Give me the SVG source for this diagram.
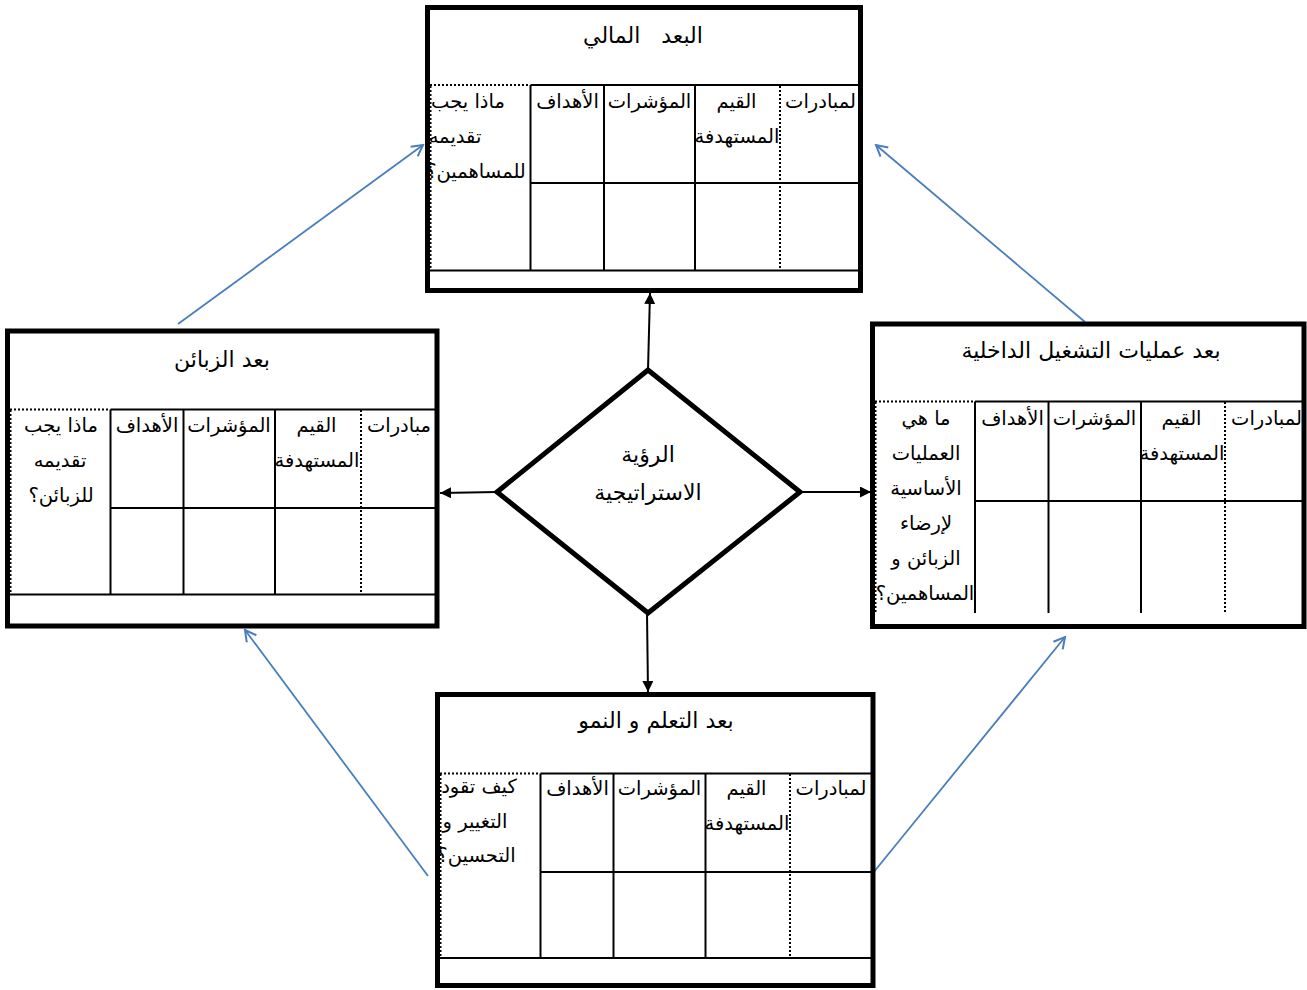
<svg xmlns="http://www.w3.org/2000/svg" width="1307" height="990" viewBox="0 0 1307 990">
<style>
.box{fill:#fff;stroke:#000;stroke-width:5}
.grid{stroke:#000;stroke-width:2;fill:none}
.dot{stroke:#000;stroke-width:2;stroke-dasharray:2 2;fill:none}
.t{font-family:"DejaVu Sans",sans-serif;font-size:19.5px;fill:#000;text-anchor:middle}
.h{font-size:22px}
.conn{stroke:#000;stroke-width:2;fill:none}
.blue{stroke:#4a7ebb;stroke-width:1.8;fill:none}
.dia{fill:#fff;stroke:#000;stroke-width:5;stroke-linejoin:miter}
</style>
<defs>
<marker id="ah" markerUnits="userSpaceOnUse" markerWidth="12" markerHeight="12" refX="11" refY="5.5" orient="auto">
<path d="M0,0 L11,5.5 L0,11 z" fill="#000"/>
</marker>
<marker id="ab" markerUnits="userSpaceOnUse" markerWidth="14" markerHeight="14" refX="12" refY="7" orient="auto">
<path d="M1,1 L12,7 L1,13" fill="none" stroke="#4a7ebb" stroke-width="2"/>
</marker>
<clipPath id="cTop"><rect x="430" y="10" width="428" height="278"/></clipPath>
<clipPath id="cLeft"><rect x="10" y="333.5" width="424.5" height="290"/></clipPath>
<clipPath id="cRight"><rect x="875" y="326.5" width="426.5" height="297.5"/></clipPath>
<clipPath id="cBot"><rect x="440" y="697" width="430.5" height="286"/></clipPath>
</defs>

<g id="connectors">
<line class="conn" x1="648" y1="370" x2="650" y2="293" marker-end="url(#ah)"/>
<line class="conn" x1="497" y1="492" x2="440" y2="493" marker-end="url(#ah)"/>
<line class="conn" x1="800" y1="492" x2="871" y2="492" marker-end="url(#ah)"/>
<line class="conn" x1="647" y1="613" x2="648" y2="692" marker-end="url(#ah)"/>
<line class="blue" x1="178" y1="324" x2="423" y2="145" marker-end="url(#ab)"/>
<line class="blue" x1="1085" y1="322" x2="876" y2="145" marker-end="url(#ab)"/>
<line class="blue" x1="428" y1="876" x2="245" y2="630" marker-end="url(#ab)"/>
<line class="blue" x1="873" y1="873" x2="1065" y2="637" marker-end="url(#ab)"/>
</g>

<g id="financial">
<rect class="box" x="427.5" y="7.5" width="433" height="283"/>
<line class="grid" x1="530.5" y1="85" x2="858" y2="85"/>
<line class="grid" x1="530.5" y1="183" x2="858" y2="183"/>
<line class="grid" x1="430" y1="270.5" x2="858" y2="270.5"/>
<line class="grid" x1="530.5" y1="85" x2="530.5" y2="270.5"/>
<line class="grid" x1="604" y1="85" x2="604" y2="270.5"/>
<line class="grid" x1="695" y1="85" x2="695" y2="270.5"/>
<line class="dot" x1="780" y1="86" x2="780" y2="270"/>
<line class="dot" x1="430" y1="85" x2="530" y2="85"/>
<line class="dot" x1="430.5" y1="86" x2="430.5" y2="270"/>
<g clip-path="url(#cTop)">
<text class="t h" x="643" y="43" xml:space="preserve">البعد   المالي</text>
<text class="t" x="468" y="108">ماذا يجب</text>
<text class="t" x="455" y="143">تقديمه</text>
<text class="t" x="476" y="178">للمساهمين؟</text>
<text class="t" x="567.5" y="108">الأهداف</text>
<text class="t" x="649.5" y="108">المؤشرات</text>
<text class="t" x="736.5" y="108">القيم</text>
<text class="t" x="737" y="143">المستهدفة</text>
<text class="t" x="820.5" y="108">لمبادرات</text>
</g>
</g>

<g id="customers">
<rect class="box" x="7.5" y="331" width="429.5" height="295"/>
<line class="grid" x1="110.5" y1="409.5" x2="435" y2="409.5"/>
<line class="grid" x1="110.5" y1="508" x2="435" y2="508"/>
<line class="grid" x1="10" y1="594.5" x2="435" y2="594.5"/>
<line class="grid" x1="110.5" y1="409.5" x2="110.5" y2="594.5"/>
<line class="grid" x1="183.5" y1="409.5" x2="183.5" y2="594.5"/>
<line class="grid" x1="275" y1="409.5" x2="275" y2="594.5"/>
<line class="dot" x1="361" y1="410" x2="361" y2="594"/>
<line class="dot" x1="10" y1="409.5" x2="110" y2="409.5"/>
<line class="dot" x1="10.5" y1="410" x2="10.5" y2="594"/>
<g clip-path="url(#cLeft)">
<text class="t h" x="222" y="367">بعد الزبائن</text>
<text class="t" x="61" y="432">ماذا يجب</text>
<text class="t" x="60" y="467">تقديمه</text>
<text class="t" x="61" y="502">للزبائن؟</text>
<text class="t" x="147" y="432">الأهداف</text>
<text class="t" x="229" y="432">المؤشرات</text>
<text class="t" x="316.5" y="432">القيم</text>
<text class="t" x="317" y="467">المستهدفة</text>
<text class="t" x="399" y="432">مبادرات</text>
</g>
</g>

<g id="internal">
<rect class="box" x="872.5" y="324" width="431.5" height="302.5"/>
<line class="grid" x1="975" y1="401.5" x2="1302" y2="401.5"/>
<line class="grid" x1="975" y1="501" x2="1302" y2="501"/>
<line class="grid" x1="975" y1="401.5" x2="975" y2="613"/>
<line class="grid" x1="1048.5" y1="401.5" x2="1048.5" y2="613"/>
<line class="grid" x1="1141" y1="401.5" x2="1141" y2="613"/>
<line class="dot" x1="1225" y1="402" x2="1225" y2="613"/>
<line class="dot" x1="875" y1="401.5" x2="975" y2="401.5"/>
<line class="dot" x1="875.5" y1="402" x2="875.5" y2="613"/>
<g clip-path="url(#cRight)">
<text class="t h" x="1091" y="358">بعد عمليات التشغيل الداخلية</text>
<text class="t" x="926" y="425">ما هي</text>
<text class="t" x="926" y="460">العمليات</text>
<text class="t" x="926" y="495">الأساسية</text>
<text class="t" x="926" y="530">لإرضاء</text>
<text class="t" x="926" y="565">الزبائن و</text>
<text class="t" x="925" y="600">المساهمين؟</text>
<text class="t" x="1012.5" y="425">الأهداف</text>
<text class="t" x="1094.5" y="425">المؤشرات</text>
<text class="t" x="1181.5" y="425">القيم</text>
<text class="t" x="1182" y="460">المستهدفة</text>
<text class="t" x="1266.5" y="425">لمبادرات</text>
</g>
</g>

<g id="learning">
<rect class="box" x="437.5" y="694.5" width="435.5" height="291"/>
<line class="grid" x1="540.5" y1="773.5" x2="871" y2="773.5"/>
<line class="grid" x1="540.5" y1="872" x2="871" y2="872"/>
<line class="grid" x1="440" y1="958" x2="871" y2="958"/>
<line class="grid" x1="540.5" y1="773.5" x2="540.5" y2="958"/>
<line class="grid" x1="613.5" y1="773.5" x2="613.5" y2="958"/>
<line class="grid" x1="705.5" y1="773.5" x2="705.5" y2="958"/>
<line class="dot" x1="790" y1="774" x2="790" y2="957"/>
<line class="dot" x1="440" y1="773.5" x2="540" y2="773.5"/>
<line class="dot" x1="440.5" y1="774" x2="440.5" y2="957"/>
<g clip-path="url(#cBot)">
<text class="t h" x="656" y="728">بعد التعلم و النمو</text>
<text class="t" x="479" y="793">كيف تقود</text>
<text class="t" x="475" y="828">التغيير و</text>
<text class="t" x="476.5" y="862">التحسين؟</text>
<text class="t" x="577.5" y="795">الأهداف</text>
<text class="t" x="659.5" y="795">المؤشرات</text>
<text class="t" x="746.5" y="795">القيم</text>
<text class="t" x="747" y="830">المستهدفة</text>
<text class="t" x="831" y="795">لمبادرات</text>
</g>
</g>

<g id="vision">
<polygon class="dia" points="648,370 800,492 648,613 497,492"/>
<text class="t h" x="648" y="462">الرؤية</text>
<text class="t h" x="648" y="500">الاستراتيجية</text>
</g>
</svg>
